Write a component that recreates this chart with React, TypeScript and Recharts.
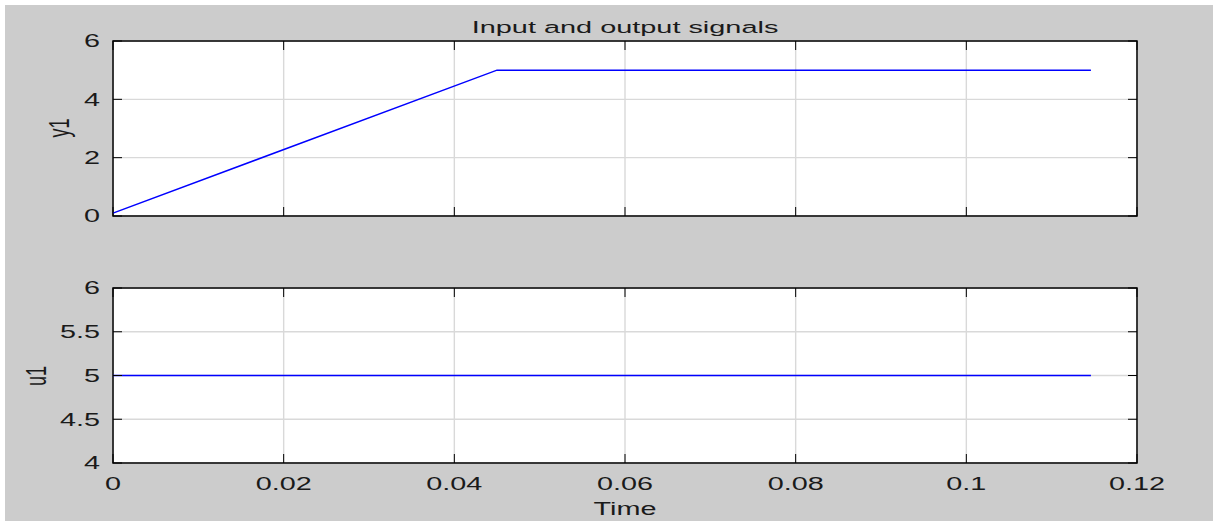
// @ts-nocheck
import { LineChart, Line, XAxis, YAxis, CartesianGrid, ReferenceArea } from 'recharts';

// time axis
const timeTicks = [0, 0.02, 0.04, 0.06, 0.08, 0.1, 0.12];
const timeLabels = ['0', '0.02', '0.04', '0.06', '0.08', '0.1', '0.12'];

// y1 (output)
const y1Time = [0, 0.045, 0.1146];
const y1Values = [0.1, 5, 5];
const y1Ticks = [0, 2, 4, 6];

// u1 (input)
const u1Time = [0, 0.1146];
const u1Values = [5, 5];
const u1Ticks = [4, 4.5, 5, 5.5, 6];

const W = 1213;
const PLOT_LEFT = 113;
const PLOT_RIGHT = 1137;
const PLOT_W = PLOT_RIGHT - PLOT_LEFT;
const PLOT_H = 175;
const TICK_LEN = 9;
const STRETCH = 1.6;
const FONT = 'Liberation Sans, Arial, Helvetica, sans-serif';
const TEXT_COLOR = '#1a1a1a';

const y1Data = y1Time.map((t, i) => ({ t, v: y1Values[i] }));
const u1Data = u1Time.map((t, i) => ({ t, v: u1Values[i] }));

const XTick = ({ x, y, payload, showLabel }) => {
  const idx = timeTicks.indexOf(payload.value);
  return (
    <g>
      <line x1={x} x2={x} y1={y} y2={y - TICK_LEN} stroke="#000" />
      <line x1={x} x2={x} y1={y - PLOT_H} y2={y - PLOT_H + TICK_LEN} stroke="#000" />
      {showLabel && (
        <text
          transform={`translate(${x},${y + 27}) scale(${STRETCH},1)`}
          textAnchor="middle"
          fontSize={18}
          fontFamily={FONT}
          fill={TEXT_COLOR}
        >
          {timeLabels[idx] ?? String(payload.value)}
        </text>
      )}
    </g>
  );
};

const YTick = ({ x, y, payload }) => (
  <g>
    <line x1={x} x2={x + TICK_LEN} y1={y} y2={y} stroke="#000" />
    <line x1={x + PLOT_W} x2={x + PLOT_W - TICK_LEN} y1={y} y2={y} stroke="#000" />
    <text
      transform={`translate(${x - 13},${y}) scale(${STRETCH},1)`}
      textAnchor="end"
      dy="0.36em"
      fontSize={18}
      fontFamily={FONT}
      fill={TEXT_COLOR}
    >
      {String(payload.value)}
    </text>
  </g>
);

function SignalPlot({ data, domain, ticks, height, top, xHeight, showX }) {
  return (
    <LineChart
      width={W}
      height={height}
      data={data}
      margin={{ top, right: W - PLOT_RIGHT, bottom: 0, left: 0 }}
    >
      <CartesianGrid stroke="#d9d9d9" strokeWidth={1.4} fill="#ffffff" fillOpacity={1} />
      <XAxis
        dataKey="t"
        type="number"
        domain={[0, 0.12]}
        ticks={timeTicks}
        height={xHeight}
        axisLine={false}
        tickLine={false}
        tickSize={0}
        tickMargin={0}
        interval={0}
        tick={(p) => <XTick {...p} showLabel={showX} />}
      />
      <YAxis
        type="number"
        domain={domain}
        ticks={ticks}
        width={PLOT_LEFT}
        axisLine={false}
        tickLine={false}
        tickSize={0}
        tickMargin={0}
        interval={0}
        tick={(p) => <YTick {...p} />}
      />
      <ReferenceArea x1={0} x2={0.12} y1={domain[0]} y2={domain[1]} fill="none" stroke="#000" strokeWidth={1.5} />
      <Line type="linear" dataKey="v" stroke="#0000ff" strokeWidth={1.5} dot={false} isAnimationActive={false} />
    </LineChart>
  );
}

export default function App() {
  return (
    <div style={{ position: 'absolute', left: 0, top: 0, width: W, height: 521, background: '#fff', overflow: 'hidden' }}>
      <div style={{ position: 'absolute', left: 5, top: 5, width: W - 5, height: 516, background: '#cccccc' }} />
      <div style={{ position: 'absolute', left: 0, top: 0 }}>
        <SignalPlot data={y1Data} domain={[0, 6]} ticks={y1Ticks} height={260} top={41} xHeight={44} showX={false} />
      </div>
      <div style={{ position: 'absolute', left: 0, top: 260 }}>
        <SignalPlot data={u1Data} domain={[4, 6]} ticks={u1Ticks} height={261} top={28} xHeight={58} showX={true} />
      </div>
      <svg width={W} height={521} style={{ position: 'absolute', left: 0, top: 0, pointerEvents: 'none' }}>
        <text
          transform={`translate(625,33) scale(1.7,1)`}
          textAnchor="middle"
          fontSize={17}
          fontFamily={FONT}
          fill={TEXT_COLOR}
        >
          Input and output signals
        </text>
        <text
          transform={`translate(625,515) scale(${STRETCH},1)`}
          textAnchor="middle"
          fontSize={18}
          fontFamily={FONT}
          fill={TEXT_COLOR}
        >
          Time
        </text>
        <text
          transform={`translate(60,128) scale(${STRETCH},1) rotate(-90)`}
          textAnchor="middle"
          dy="0.3em"
          fontSize={18}
          fontFamily={FONT}
          fill={TEXT_COLOR}
        >
          y1
        </text>
        <text
          transform={`translate(37,376) scale(${STRETCH},1) rotate(-90)`}
          textAnchor="middle"
          dy="0.3em"
          fontSize={18}
          fontFamily={FONT}
          fill={TEXT_COLOR}
        >
          u1
        </text>
      </svg>
    </div>
  );
}
